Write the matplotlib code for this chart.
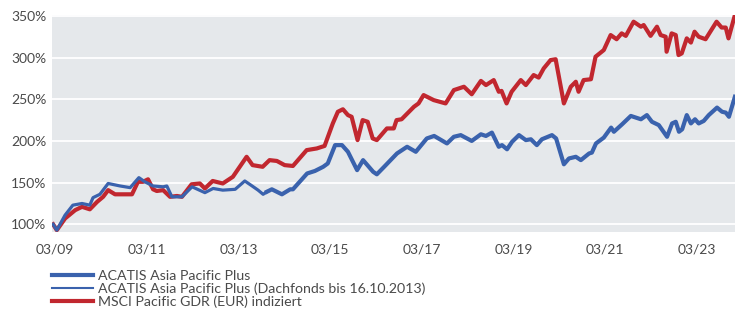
import matplotlib
matplotlib.use("Agg")
import matplotlib.pyplot as plt
from matplotlib.lines import Line2D

# decimal years / indexed value in %
fund_years = [2009.13, 2009.21, 2009.39, 2009.56, 2009.76, 2009.93, 2010.00, 2010.15,
              2010.33, 2010.59, 2010.81, 2011.00, 2011.13, 2011.31, 2011.53, 2011.61,
              2011.72, 2011.94, 2012.16, 2012.44, 2012.62, 2012.83, 2013.10, 2013.31,
              2013.47, 2013.60, 2013.71, 2013.79, 2013.90, 2014.12, 2014.30, 2014.36,
              2014.67, 2014.84, 2015.02, 2015.12, 2015.28, 2015.43, 2015.56, 2015.76,
              2015.89, 2016.11, 2016.19, 2016.35, 2016.63, 2016.85, 2017.04, 2017.28,
              2017.44, 2017.72, 2017.87, 2018.02, 2018.26, 2018.46, 2018.57, 2018.70,
              2018.85, 2018.92, 2019.03, 2019.14, 2019.29, 2019.44, 2019.55, 2019.68,
              2019.79, 2020.01, 2020.10, 2020.27, 2020.38, 2020.53, 2020.64, 2020.82,
              2020.88, 2020.97, 2021.14, 2021.30, 2021.36, 2021.54, 2021.73, 2021.95,
              2022.08, 2022.19, 2022.34, 2022.52, 2022.63, 2022.71, 2022.78, 2022.85,
              2022.95, 2023.04, 2023.13, 2023.21, 2023.32, 2023.43, 2023.61, 2023.72,
              2023.80, 2023.87, 2024.00]
fund_values = [100, 93, 111, 123, 125, 123, 132, 136,
               149, 146, 144, 156, 151, 146, 145, 146,
               133, 133, 145, 138, 143, 141, 142, 152,
               146, 141, 136, 139, 142, 136, 142, 142,
               161, 164, 169, 173, 195, 195, 187, 165,
               177, 163, 160, 169, 185, 193, 187, 203,
               206, 197, 205, 207, 200, 208, 206, 210,
               193, 195, 190, 199, 207, 201, 202, 195,
               202, 207, 203, 172, 179, 181, 177, 185,
               186, 197, 204, 216, 211, 220, 230, 226,
               231, 223, 219, 205, 221, 223, 211, 214,
               231, 221, 226, 221, 224, 231, 240, 235,
               234, 229, 253]

index_years = [2009.13, 2009.21, 2009.39, 2009.61, 2009.76, 2009.93, 2010.09, 2010.22,
               2010.33, 2010.48, 2010.85, 2010.98, 2011.09, 2011.20, 2011.31, 2011.39,
               2011.53, 2011.68, 2011.83, 2011.94, 2012.15, 2012.33, 2012.44, 2012.61,
               2012.83, 2013.05, 2013.35, 2013.48, 2013.70, 2013.85, 2014.01, 2014.18,
               2014.36, 2014.66, 2014.88, 2015.05, 2015.23, 2015.34, 2015.45, 2015.56,
               2015.64, 2015.77, 2015.88, 2015.99, 2016.10, 2016.19, 2016.41, 2016.56,
               2016.62, 2016.73, 2017.00, 2017.10, 2017.21, 2017.43, 2017.69, 2017.87,
               2018.09, 2018.26, 2018.46, 2018.57, 2018.74, 2018.85, 2018.91, 2019.02,
               2019.13, 2019.33, 2019.44, 2019.61, 2019.72, 2019.83, 2019.98, 2020.09,
               2020.27, 2020.42, 2020.53, 2020.59, 2020.70, 2020.86, 2020.96, 2021.14,
               2021.29, 2021.42, 2021.53, 2021.62, 2021.79, 2021.95, 2022.01, 2022.16,
               2022.30, 2022.38, 2022.49, 2022.51, 2022.62, 2022.71, 2022.77, 2022.84,
               2022.95, 2023.04, 2023.12, 2023.21, 2023.36, 2023.60, 2023.71, 2023.80,
               2023.86, 2024.00]
index_values = [100, 93, 107, 117, 121, 118, 127, 133,
                141, 136, 136, 151, 151, 154, 142, 140,
                141, 133, 134, 133, 148, 149, 143, 152,
                149, 157, 181, 171, 169, 177, 176, 171,
                170, 189, 191, 194, 221, 235, 238, 231,
                229, 201, 225, 223, 203, 201, 215, 215,
                225, 226, 241, 245, 255, 249, 245, 261,
                265, 256, 272, 267, 273, 259, 260, 245,
                259, 273, 267, 279, 276, 287, 297, 298,
                245, 265, 271, 259, 273, 274, 301, 309,
                327, 322, 329, 326, 343, 337, 339, 326,
                337, 327, 325, 307, 329, 327, 303, 305,
                323, 318, 331, 325, 322, 343, 336, 336,
                323, 351]

switch_year = 2013.79  # Dachfonds bis 16.10.2013
tick_years = [2009.17, 2011.17, 2013.17, 2015.17, 2017.17, 2019.17, 2021.17, 2023.17]
tick_labels = ["03/09", "03/11", "03/13", "03/15", "03/17", "03/19", "03/21", "03/23"]
y_ticks = [100, 150, 200, 250, 300, 350]
legend_labels = ["ACATIS Asia Pacific Plus",
                 "ACATIS Asia Pacific Plus (Dachfonds bis 16.10.2013)",
                 "MSCI Pacific GDR (EUR) indiziert"]

blue = "#3a62ad"
red = "#c1272f"
text_col = "#4a4a4a"

plt.rcParams["font.family"] = ["Lato", "DejaVu Sans"]

fig = plt.figure(figsize=(7.48, 3.2), dpi=100)
ax = fig.add_axes([0.0695, 0.275, 0.913, 0.678])
ax.set_facecolor("#e5e8eb")

pre_x = [x for x in fund_years if x <= switch_year]
pre_y = fund_values[:len(pre_x)]
post_x = fund_years[len(pre_x) - 1:]
post_y = fund_values[len(pre_x) - 1:]

ax.plot(index_years, index_values, color=red, lw=3.0, solid_joinstyle="round", zorder=3)
ax.plot(pre_x, pre_y, color=blue, lw=2.3, solid_joinstyle="round", zorder=4)
ax.plot(post_x, post_y, color=blue, lw=3.0, solid_joinstyle="round", zorder=4)

ax.set_xlim(2009.105, 2024.0)
ax.set_ylim(90.8, 351)
ax.set_xticks(tick_years)
ax.set_xticklabels(tick_labels)
ax.set_yticks(y_ticks)
ax.set_yticklabels([f"{v}%" for v in y_ticks])
ax.grid(axis="y", color="white", lw=1.3, zorder=1)
ax.set_axisbelow(True)
for s in ax.spines.values():
    s.set_visible(False)
ax.tick_params(length=0, labelsize=10, colors=text_col)
ax.tick_params(axis="x", pad=8.5)
ax.tick_params(axis="y", pad=4)

handles = [Line2D([], [], color=blue, lw=3.0),
           Line2D([], [], color=blue, lw=1.5),
           Line2D([], [], color=red, lw=3.0)]
fig.legend(handles, legend_labels, loc="upper left", bbox_to_anchor=(0.0695, 0.155),
           frameon=False, fontsize=10.2, labelcolor=text_col, handlelength=2.9,
           handletextpad=0.35, labelspacing=0.02, borderaxespad=0, borderpad=0)

fig.savefig("out.png", dpi=100)
